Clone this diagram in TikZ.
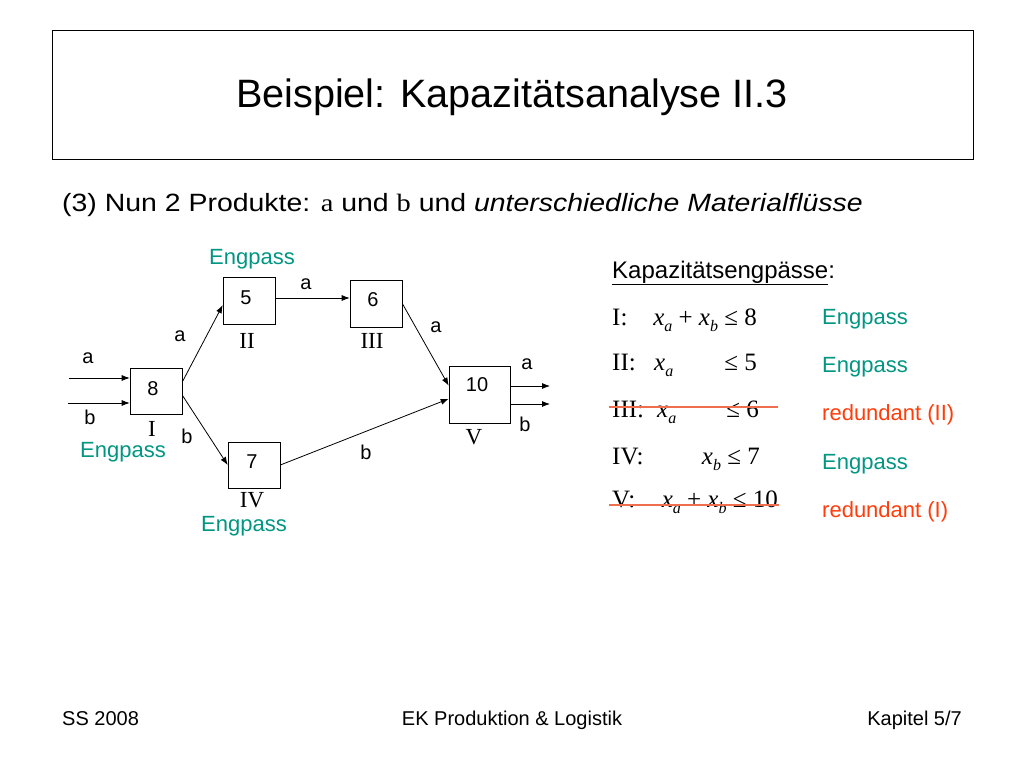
\documentclass[tikz,border=0pt]{standalone}
\usepackage{fontspec}
\setmainfont{Liberation Sans}
\newfontfamily\tms{Liberation Serif}
\usetikzlibrary{arrows.meta}
\definecolor{teal2}{RGB}{0,150,130}
\definecolor{red2}{RGB}{255,60,10}
\definecolor{strk}{RGB}{240,110,80}
\newcommand\xv[1]{{\tms\itshape x}\raisebox{-0.6ex}{\fontsize{16}{16}\selectfont\tms\itshape #1}}
\begin{document}
\begin{tikzpicture}[x=1pt,y=-1pt,inner sep=0pt,
  box/.style={draw,line width=0.6pt,inner sep=0pt},
  num/.style={font=\fontsize{20}{20}\selectfont},
  rom/.style={font=\fontsize{23}{23}\selectfont\tms},
  lab/.style={font=\fontsize{20}{20}\selectfont},
  eng/.style={font=\fontsize{22}{22}\selectfont,text=teal2},
  redtxt/.style={font=\fontsize{22}{22}\selectfont,text=red2},
  frm/.style={font=\fontsize{25}{25}\selectfont\tms},
  foot/.style={font=\fontsize{20}{20}\selectfont},
  arr/.style={-{Latex[length=8pt,width=6pt]},line width=0.8pt},
  strike/.style={draw=strk,line width=1.2pt}]
\useasboundingbox (0,0) rectangle (1024,768);
% title
\node[draw,line width=0.8pt,minimum width=921pt,minimum height=129pt] (title) at (512.5,94.5) {};
\node[font=\fontsize{39.6}{40}\selectfont] (ttext) at (512,97) {Beispiel: Kapazitätsanalyse II.3};
\node[anchor=base west,font=\fontsize{25}{25}\selectfont,xscale=1.137,transform shape] (sub) at (62,211) {(3) Nun 2 Produkte: {\tms a} und {\tms b} und \textit{unterschiedliche Materialflüsse}};
% boxes
\node[box,minimum width=52pt,minimum height=46pt] (n8) at (156,391.5) {};
\node[box,minimum width=52pt,minimum height=47pt] (n5) at (249,300.5) {};
\node[box,minimum width=52pt,minimum height=47pt] (n6) at (376,303.5) {};
\node[box,minimum width=52pt,minimum height=46pt] (n7) at (254,465) {};
\node[box,minimum width=61pt,minimum height=57pt] (n10) at (479.5,394.5) {};
\node[num] (t8) at (153,389) {8};
\node[num] (t5) at (246,298) {5};
\node[num] (t6) at (373,300) {6};
\node[num] (t7) at (252,462) {7};
\node[num] (t10) at (477,385) {10};
\node[rom] (r1) at (152,429) {I};
\node[rom] (r2) at (247,341) {II};
\node[rom] (r3) at (372,341) {III};
\node[rom] (r4) at (252,500) {IV};
\node[rom] (r5) at (474,437) {V};
\node[eng] (e5) at (252,259) {Engpass};
\node[eng] (e8) at (123,452) {Engpass};
\node[eng] (e7) at (244,526) {Engpass};
% arrows
\coordinate (ina) at (69,378);
\coordinate (inb) at (68,403);
\draw[arr] (ina) -- (ina -| n8.west);
\draw[arr] (inb) -- (inb -| n8.west);
\node[lab] (la0) at (88,358) {a};
\node[lab] (lb0) at (90,417) {b};
\draw[arr] (n8.20) -- (n5.190);
\draw[arr] (n8.-8) -- (n7.west);
\node[lab] (la1) at (180,336) {a};
\node[lab] (lb1) at (187,436) {b};
\draw[arr] (n5.east |- 0,298) -- (n6.west |- 0,298);
\node[lab] (la2) at (306,284) {a};
\draw[arr] (n6.east) -- (n10.164);
\node[lab] (la3) at (436,327) {a};
\draw[arr] (n7.east) -- (n10.188);
\node[lab] (lb3) at (366,452) {b};
\coordinate (outa) at (550,386);
\coordinate (outb) at (550,404);
\draw[arr] (n10.east |- outa) -- (outa);
\draw[arr] (n10.east |- outb) -- (outb);
\node[lab] (la4) at (527,364) {a};
\node[lab] (lb4) at (525,424) {b};
% right side
\node[anchor=base west,font=\fontsize{24}{24}\selectfont] (kap) at (612,278) {\underline{Kapazitätsengpässe}:};
\node[frm,anchor=base west] (f1l) at (612,325) {I:};
\node[frm,anchor=base east] (f1) at (757,325) {\xv{a} + \xv{b} ≤ 8};
\node[frm,anchor=base west] (f2l) at (612,370) {II:};
\node[frm,anchor=base west] (f2x) at (654,370) {\xv{a}};
\node[frm,anchor=base east] (f2) at (757,370) {≤ 5};
\node[frm,anchor=base west] (f3l) at (612,417) {III:};
\node[frm,anchor=base west] (f3x) at (657,417) {\xv{a}};
\node[frm,anchor=base east] (f3) at (759,417) {≤ 6};
\node[frm,anchor=base west] (f4l) at (612,464) {IV:};
\node[frm,anchor=base east] (f4) at (760,464) {\xv{b} ≤ 7};
\node[frm,anchor=base west] (f5l) at (612,507) {V:};
\node[frm,anchor=base east] (f5) at (778,507) {\xv{a} + \xv{b} ≤ 10};
\draw[strike] (609,407) -- (778,407);
\draw[strike] (609,505) -- (779,505);
\node[eng,anchor=base west] (g1) at (822,324) {Engpass};
\node[eng,anchor=base west] (g2) at (822,372) {Engpass};
\node[redtxt,anchor=base west] (g3) at (822,420) {redundant (II)};
\node[eng,anchor=base west] (g4) at (822,469) {Engpass};
\node[redtxt,anchor=base west] (g5) at (822,517) {redundant (I)};
% footer
\node[foot,anchor=base west] (ft1) at (62,725) {SS 2008};
\node[foot,anchor=base] (ft2) at (512,725) {EK Produktion \& Logistik};
\node[foot,anchor=base east] (ft3) at (962,725) {Kapitel 5/7};
\end{tikzpicture}
\end{document}
